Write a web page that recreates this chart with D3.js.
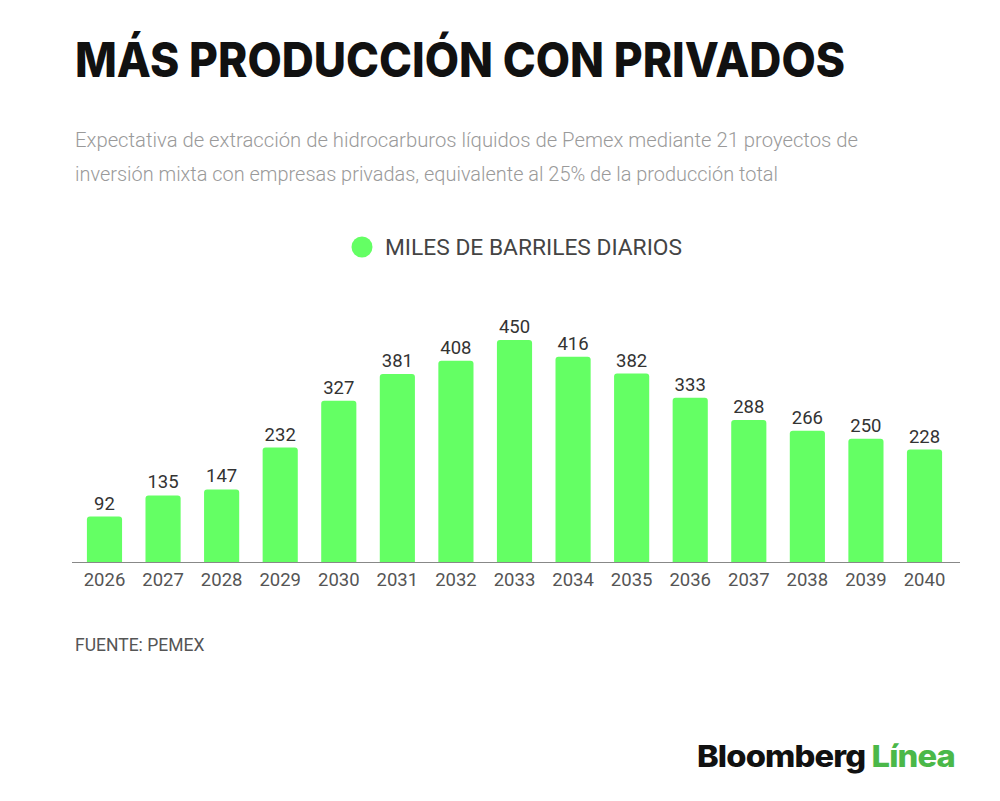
<!DOCTYPE html>
<html>
<head>
<meta charset="utf-8">
<script src="https://cdn.jsdelivr.net/npm/d3@7"></script>
<style>
  body { margin: 0; background: #fff; }
  svg { display: block; }
</style>
</head>
<body>
<svg id="chart" width="1000" height="801"></svg>
<script>
// Data
var years = ['2026', '2027', '2028', '2029', '2030', '2031', '2032', '2033',
             '2034', '2035', '2036', '2037', '2038', '2039', '2040'];
var production = [92, 135, 147, 232, 327, 381, 408, 450,
                  416, 382, 333, 288, 266, 250, 228];
var seriesName = 'MILES DE BARRILES DIARIOS';

var barColor = '#64ff64';

var svg = d3.select('#chart');

// Title and subtitle
svg.append('text')
   .attr('x', 75)
   .attr('y', 77)
   .attr('font-family', 'Inter, Roboto, sans-serif')
   .attr('font-weight', 800)
   .attr('font-size', 48)
   .attr('fill', '#111')
   .attr('textLength', 770)
   .attr('lengthAdjust', 'spacingAndGlyphs')
   .text('MÁS PRODUCCIÓN CON PRIVADOS');

svg.append('text')
   .attr('x', 75)
   .attr('y', 147)
   .attr('font-family', 'Roboto, sans-serif')
   .attr('font-weight', 300)
   .attr('font-size', 20.5)
   .attr('fill', '#9a9a9a')
   .attr('textLength', 783)
   .attr('lengthAdjust', 'spacingAndGlyphs')
   .text('Expectativa de extracción de hidrocarburos líquidos de Pemex mediante 21 proyectos de');

svg.append('text')
   .attr('x', 75)
   .attr('y', 181)
   .attr('font-family', 'Roboto, sans-serif')
   .attr('font-weight', 300)
   .attr('font-size', 20.5)
   .attr('fill', '#9a9a9a')
   .attr('textLength', 703)
   .attr('lengthAdjust', 'spacingAndGlyphs')
   .text('inversión mixta con empresas privadas, equivalente al 25% de la producción total');

// Legend
svg.append('circle')
   .attr('cx', 362)
   .attr('cy', 247)
   .attr('r', 10.5)
   .attr('fill', barColor);
svg.append('text')
   .attr('x', 385)
   .attr('y', 255)
   .attr('font-family', 'Roboto, sans-serif')
   .attr('font-size', 22)
   .attr('fill', '#444')
   .attr('textLength', 297)
   .attr('lengthAdjust', 'spacingAndGlyphs')
   .text(seriesName);

// Scales
var baseline = 562;
var x = d3.scaleBand()
    .domain(years)
    .range([75.2, 953.8])
    .paddingInner(0.4)
    .paddingOuter(0.2);

var y = d3.scaleLinear()
    .domain([0, 450])
    .range([baseline, 340]);

// Bars with slightly rounded tops
var r = 3;
svg.append('g')
   .selectAll('path')
   .data(production)
   .enter()
   .append('path')
   .attr('fill', barColor)
   .attr('d', function(d, i) {
     var x0 = x(years[i]), w = x.bandwidth(), top = y(d);
     return 'M' + x0 + ',' + baseline +
            'V' + (top + r) +
            'Q' + x0 + ',' + top + ' ' + (x0 + r) + ',' + top +
            'H' + (x0 + w - r) +
            'Q' + (x0 + w) + ',' + top + ' ' + (x0 + w) + ',' + (top + r) +
            'V' + baseline + 'Z';
   });

// Value labels
svg.append('g')
   .selectAll('text')
   .data(production)
   .enter()
   .append('text')
   .attr('x', function(d, i) { return x(years[i]) + x.bandwidth() / 2; })
   .attr('y', function(d) { return y(d) - 7; })
   .attr('text-anchor', 'middle')
   .attr('font-family', 'Roboto, sans-serif')
   .attr('font-size', 18.5)
   .attr('fill', '#333')
   .text(function(d) { return d; });

// Axis
var axis = svg.append('g')
   .attr('transform', 'translate(0,' + baseline + ')')
   .call(d3.axisBottom(x).tickSize(0).tickPadding(11));
axis.select('.domain').remove();
axis.selectAll('text')
    .attr('font-family', 'Roboto, sans-serif')
    .attr('font-size', 18.5)
    .attr('fill', '#555');
axis.append('line')
    .attr('x1', 72)
    .attr('x2', 960)
    .attr('y1', 0.5)
    .attr('y2', 0.5)
    .attr('stroke', '#888')
    .attr('stroke-width', 1.2);

// Source
svg.append('text')
   .attr('x', 75)
   .attr('y', 651)
   .attr('font-family', 'Roboto, sans-serif')
   .attr('font-size', 17.5)
   .attr('fill', '#555')
   .text('FUENTE: PEMEX');

// Logo text
var logo = svg.append('text')
   .attr('x', 697)
   .attr('y', 767)
   .attr('font-family', 'Inter, Roboto, sans-serif')
   .attr('font-weight', 800)
   .attr('font-size', 30)
   .attr('letter-spacing', -0.8)
   .attr('textLength', 258)
   .attr('lengthAdjust', 'spacingAndGlyphs');
logo.append('tspan').attr('fill', '#111').text('Bloomberg ');
logo.append('tspan').attr('fill', '#4bb849').text('Línea');
</script>
</body>
</html>
